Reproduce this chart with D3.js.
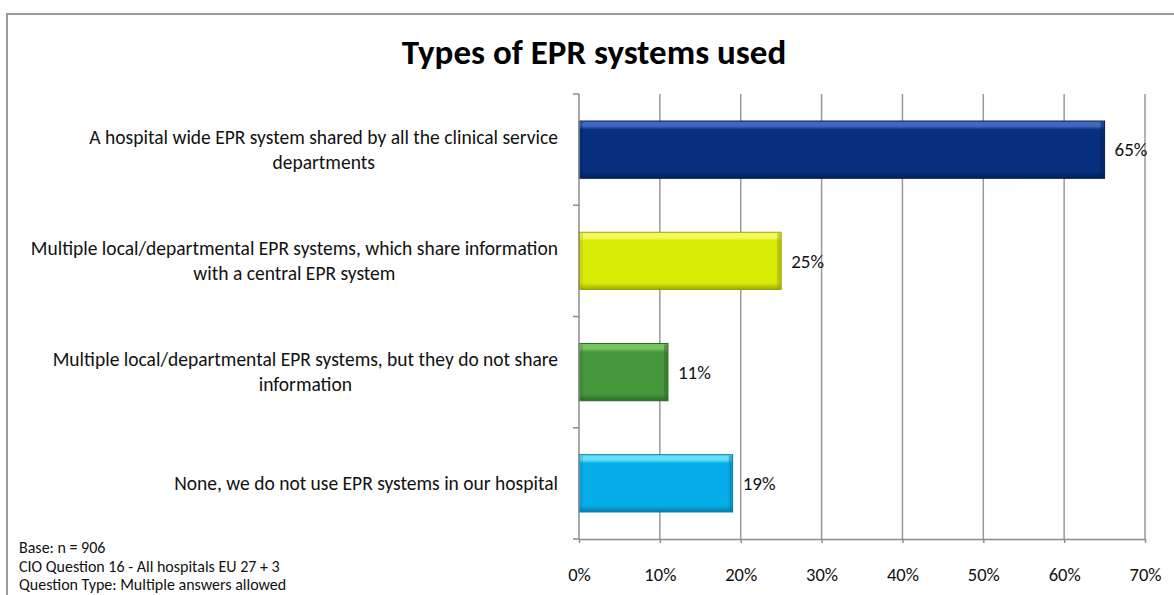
<!DOCTYPE html>
<html><head><meta charset="utf-8">
<script src="https://cdn.jsdelivr.net/npm/d3@7/dist/d3.min.js"></script>
<style>
html,body{margin:0;padding:0;background:#fff;}
svg{display:block;}
text{font-family:Carlito,Lato,sans-serif;fill:#111;}
</style></head>
<body>
<svg id="chart" width="1174" height="595"></svg>
<script>
const title = "Types of EPR systems used";
const categories = [
  ["A hospital wide EPR system shared by all the clinical service", "departments"],
  ["Multiple local/departmental EPR systems, which share information", "with a central EPR system"],
  ["Multiple local/departmental EPR systems, but they do not share", "information"],
  ["None, we do not use EPR systems in our hospital"]
];
const values = [65, 25, 11, 19];
const valueLabels = ["65%", "25%", "11%", "19%"];
const xTicks = [0, 10, 20, 30, 40, 50, 60, 70];
const footnotes = ["Base: n = 906", "CIO Question 16 - All hospitals  EU 27 + 3", "Question Type: Multiple answers allowed"];
const palette = [
  {main:"#062F7E", light:"#3F68BE", dark:"#031F57"},
  {main:"#D8EB05", light:"#F2FA60", dark:"#99A600"},
  {main:"#44973A", light:"#78C463", dark:"#2C6A26"},
  {main:"#05AEE9", light:"#66E0F8", dark:"#037DA8"}
];

const svg = d3.select("#chart");
svg.append("rect").attr("x",7).attr("y",14).attr("width",1200).attr("height",620)
  .attr("fill","none").attr("stroke","#9a9a9a").attr("stroke-width",2);

const pLeft = 579, pRight = 1145, pTop = 94, pBottom = 539;
const x = d3.scaleLinear().domain([0,70]).range([pLeft,pRight]);
const y = d3.scaleBand().domain(d3.range(categories.length)).range([pTop,pBottom])
  .paddingInner(0.485).paddingOuter(0.243);
const yTicks = d3.scaleBand().domain(d3.range(categories.length)).range([pTop,pBottom]);

svg.append("text").attr("x",594).attr("y",64).attr("text-anchor","middle")
  .style("font-size","35px").style("font-weight","bold").style("fill","#000").text(title);

svg.append("g").selectAll("line").data(xTicks.filter(d=>d>0)).join("line")
  .attr("x1",d=>x(d)).attr("x2",d=>x(d)).attr("y1",pTop).attr("y2",pBottom)
  .attr("stroke","#9a9a9a").attr("stroke-width",1.5);

const defs = svg.append("defs");
palette.forEach((p,i)=>{
  const g = defs.append("linearGradient").attr("id","gv"+i).attr("x1",0).attr("y1",0).attr("x2",0).attr("y2",1);
  g.append("stop").attr("offset","0%").attr("stop-color",p.light);
  g.append("stop").attr("offset","9%").attr("stop-color",p.light);
  g.append("stop").attr("offset","15%").attr("stop-color",p.main);
  g.append("stop").attr("offset","89%").attr("stop-color",p.main);
  g.append("stop").attr("offset","100%").attr("stop-color",p.dark);
});

const bars = svg.append("g").selectAll("g").data(values).join("g");
bars.append("rect")
  .attr("x",x(0)).attr("y",(d,i)=>y(i))
  .attr("width",d=>x(d)-x(0)).attr("height",y.bandwidth())
  .attr("fill",(d,i)=>`url(#gv${i})`)
  .attr("stroke",(d,i)=>palette[i].dark).attr("stroke-width",1);
bars.append("rect")
  .attr("x",d=>x(d)-4).attr("y",(d,i)=>y(i)+1)
  .attr("width",4).attr("height",y.bandwidth()-2)
  .attr("fill",(d,i)=>palette[i].dark).attr("opacity",0.5);
bars.append("rect")
  .attr("x",x(0)).attr("y",(d,i)=>y(i)+1)
  .attr("width",4).attr("height",y.bandwidth()-2)
  .attr("fill",(d,i)=>palette[i].dark).attr("opacity",0.25);

svg.append("g").selectAll("text").data(values).join("text")
  .attr("x",d=>x(d)+10).attr("y",(d,i)=>y(i)+y.bandwidth()/2)
  .attr("dy","0.35em").style("font-size","19px").text((d,i)=>valueLabels[i]);

const yAxis = svg.append("g");
yAxis.append("line").attr("x1",pLeft).attr("x2",pLeft).attr("y1",pTop).attr("y2",pBottom)
  .attr("stroke","#8c8c8c").attr("stroke-width",1.5);
yAxis.selectAll("line.t").data(d3.range(categories.length+1)).join("line").attr("class","t")
  .attr("x1",pLeft-6).attr("x2",pLeft)
  .attr("y1",d=> d<categories.length? yTicks(d): pBottom)
  .attr("y2",d=> d<categories.length? yTicks(d): pBottom)
  .attr("stroke","#8c8c8c").attr("stroke-width",1.5);

const xAxis = svg.append("g").attr("transform",`translate(0,${pBottom})`)
  .call(d3.axisBottom(x).tickValues(xTicks).tickSize(4).tickSizeOuter(0).tickFormat(d=>d+"%"));
xAxis.select(".domain").attr("stroke","#8c8c8c").attr("stroke-width",1.5);
xAxis.selectAll(".tick line").attr("stroke","#8c8c8c").attr("stroke-width",1.5);
xAxis.selectAll(".tick text").attr("y",0).attr("dy","2.25em").style("font-size","18.5px")
  .style("font-family",'Carlito,Lato,sans-serif').attr("fill","#111");

const labels = svg.append("g").selectAll("text").data(categories).join("text")
  .attr("text-anchor","middle").style("font-size","19.5px");
labels.each(function(lines,i){
  const t = d3.select(this);
  const cy = yTicks(i)+yTicks.bandwidth()/2;
  const lh = 25;
  const startY = cy - (lines.length-1)*lh/2;
  lines.forEach((ln,j)=>{
    t.append("tspan").attr("y",startY+j*lh).attr("dy","0.35em").text(ln);
  });
});
labels.each(function(lines){
  const t = d3.select(this);
  const spans = t.selectAll("tspan").nodes();
  const w = d3.max(spans,s=>s.getComputedTextLength());
  const cx = 558 - w/2;
  t.selectAll("tspan").attr("x",cx);
});

svg.append("g").selectAll("text").data(footnotes).join("text")
  .attr("x",19).attr("y",(d,i)=>553+i*18.5).style("font-size","16px").text(d=>d);
</script>
</body></html>
